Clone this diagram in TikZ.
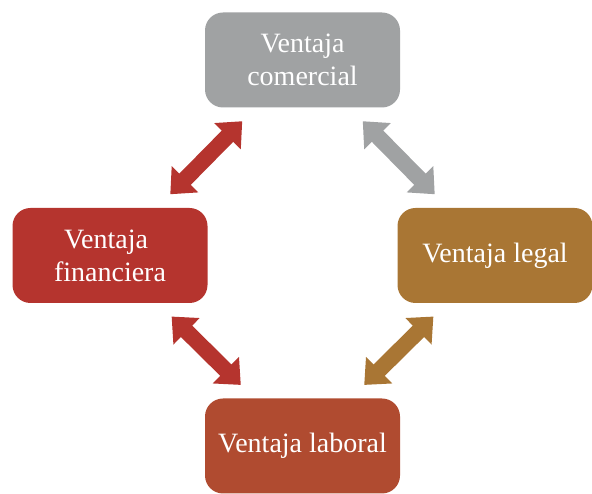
\documentclass[tikz,border=0pt]{standalone}
\usepackage{fontspec}
\setmainfont{Liberation Serif}
\usetikzlibrary{arrows.meta}

\definecolor{grisc}{RGB}{160,162,163}
\definecolor{rojof}{RGB}{181,52,46}
\definecolor{ocrel}{RGB}{169,118,52}
\definecolor{tejal}{RGB}{176,75,48}

\begin{document}
\begin{tikzpicture}[x=1pt, y=1pt,
  caja/.style={rounded corners=18pt, minimum width=195pt, minimum height=95pt,
    text=white, align=center, inner sep=2pt, font=\fontsize{28}{33}\selectfont},
  flecha/.style={line width=16pt, {Triangle[width=36pt,length=21pt]}-{Triangle[width=36pt,length=21pt]},
    shorten >=19pt, shorten <=19pt}]
\useasboundingbox (0,0) rectangle (592,494);
\node[caja, fill=grisc] (com) at (302.5,434) {Ventaja\\comercial};
\node[caja, fill=rojof] (fin) at (110,238.5) {\hspace*{-8pt}Ventaja\\financiera};
\node[caja, fill=ocrel] (leg) at (495,238.5) {Ventaja legal};
\node[caja, fill=tejal] (lab) at (302.5,48) {Ventaja laboral};
% Arrows
\draw[flecha, rojof] (com)--(fin);
\draw[flecha, grisc] (com)--(leg);
\draw[flecha, rojof] (fin)--(lab);
\draw[flecha, ocrel] (leg)--(lab);
\end{tikzpicture}
\end{document}
